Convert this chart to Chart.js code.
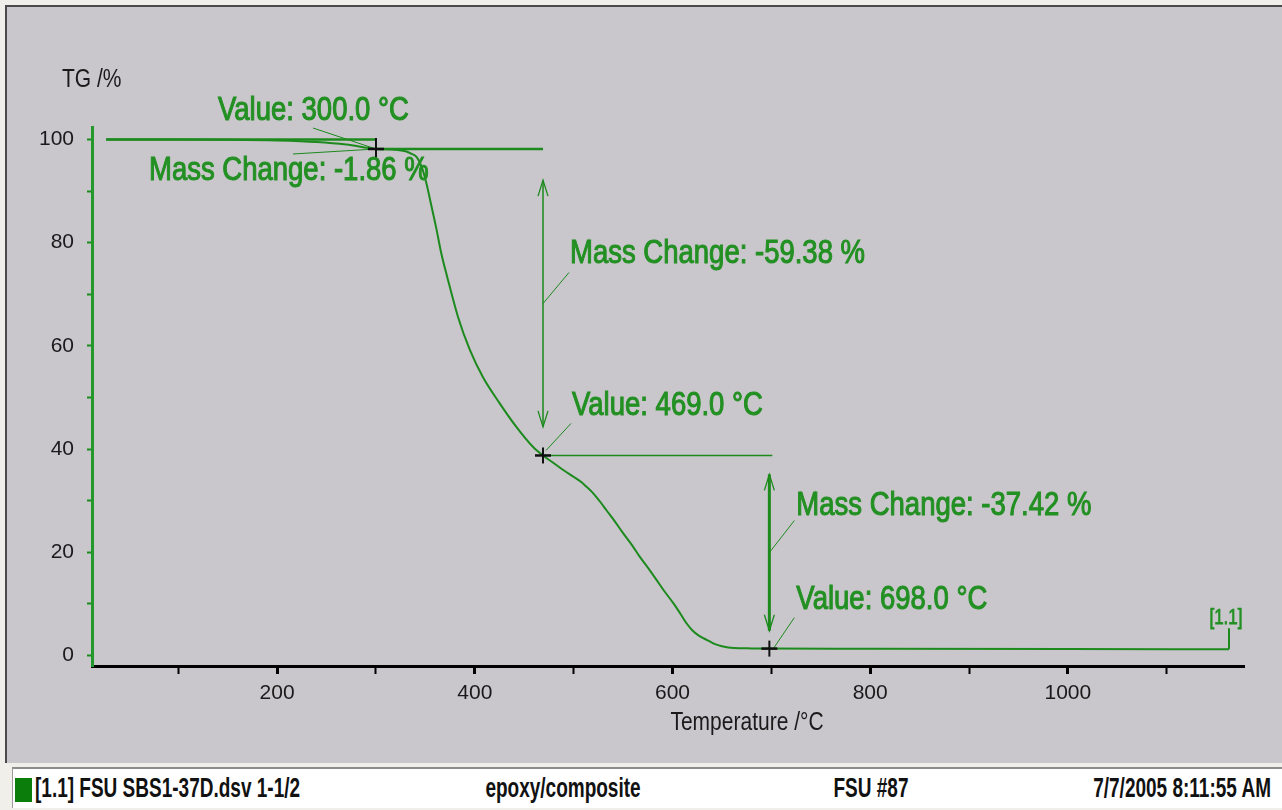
<!DOCTYPE html>
<html>
<head>
<meta charset="utf-8">
<script src="https://cdn.jsdelivr.net/npm/chart.js@4.4.1/dist/chart.umd.min.js"></script>
<style>
  html, body { margin:0; padding:0; width:1282px; height:810px; overflow:hidden; background:#f1efe9; font-family:'Liberation Sans', Arial, sans-serif; }
  #frame { position:absolute; left:5px; top:5px; width:1277px; height:758px; background:#c9c6cc; border-left:2px solid #4a4a4a; border-top:2px solid #4a4a4a; box-sizing:border-box; }
  #chart { position:absolute; left:7px; top:7px; }
  #status { position:absolute; left:12px; top:767px; width:1270px; height:41px; background:#ffffff; border-top:2px solid #8c8c8c; border-left:1px solid #9c9c9c; box-sizing:border-box; }
  #status .sq { position:absolute; left:2px; top:9px; width:17px; height:24px; background:#0b7d0b; }
  #status .t { position:absolute; top:9px; line-height:20px; font-size:19px; font-weight:bold; color:#111; white-space:nowrap; }
</style>
</head>
<body>
<div id="frame"></div>
<canvas id="chart" width="1275" height="756"></canvas>
<div id="status">
  <div class="sq"></div>
  <span class="t" style="left:22px; transform:scaleY(1.5); transform-origin:left center;">[1.1] FSU SBS1-37D.dsv 1-1/2</span>
  <span class="t" style="left:550px; transform:translateX(-50%) scaleY(1.5); transform-origin:center center;">epoxy/composite</span>
  <span class="t" style="left:858px; transform:translateX(-50%) scaleY(1.5); transform-origin:center center;">FSU #87</span>
  <span class="t" style="right:11px; transform:scaleY(1.5); transform-origin:right center;">7/7/2005 8:11:55 AM</span>
</div>
<script>
// ---------------- data ----------------
const temperatureC = [27,100,150,200,240,270,300,320,330,336,341,346,351,356,361,366,372,383,395,408,425,442,459,469,479,489.5,501,507,513,518,523,528,533,542,550,559,567,576,584,592,601,608,614,620,627,635,643,650,662,680,698,800,1000,1163];
const massPercent  = [100,100,99.95,99.8,99.5,99.0,98.14,98.0,97.7,97.2,96.6,94.8,91.5,87.2,82.8,78.0,73.4,65.6,59.2,54.0,48.9,44.3,40.4,38.76,37.4,35.94,34.5,33.7,32.7,31.8,30.7,29.5,28.2,25.9,23.7,21.4,19.1,16.8,14.6,12.4,10.1,8.1,6.3,4.9,3.8,3.0,2.2,1.8,1.45,1.38,1.34,1.3,1.25,1.22];

const eventTempC    = [300.0, 469.0, 698.0];
const eventMassPct  = [98.14, 38.76, 1.34];
const massChangePct = [-1.86, -59.38, -37.42];

const refLevelPct = [100, 98.14, 38.76];
const refFromC    = [27, 300, 469];
const refToC      = [300, 469, 701];

const arrowAtC       = [469, 698];
const arrowTopPct    = [92.1, 35.1];
const arrowBottomPct = [44.3, 4.8];

const xTickValues = [100,200,300,400,500,600,700,800,900,1000,1100];
const yTickValues = [0,10,20,30,40,50,60,70,80,90,100];
const xLabelStep = 200;
const yLabelStep = 20;

const xRange = [12.7, 1178.2];
const yRange = [-2.03, 102.4];

const curveLabel = '[1.1]';
const yAxisTitle = 'TG /%';
const xAxisTitle = 'Temperature /°C';

// ---------------- style ----------------
const GREEN = '#1c8a1c';
const TEXT_GREEN = '#229022';
const FONT = "'Liberation Sans', Arial, sans-serif";

function seg(ctx, x1, y1, x2, y2, w, col) {
  ctx.save(); ctx.strokeStyle = col; ctx.lineWidth = w; ctx.lineCap = 'butt';
  ctx.beginPath(); ctx.moveTo(x1, y1); ctx.lineTo(x2, y2); ctx.stroke(); ctx.restore();
}
function head(ctx, x, y, dir, w) { // dir=-1 points up, +1 points down
  ctx.save(); ctx.strokeStyle = GREEN; ctx.lineWidth = w;
  ctx.beginPath(); ctx.moveTo(x - 5, y - dir * 16); ctx.lineTo(x, y); ctx.lineTo(x + 5, y - dir * 16); ctx.stroke(); ctx.restore();
}
function txt(ctx, s, x, y, size, col, sy, align, boldStroke) {
  ctx.save(); ctx.font = 'normal ' + size + 'px ' + FONT; ctx.fillStyle = col; ctx.strokeStyle = col;
  ctx.textAlign = align || 'left'; ctx.textBaseline = 'alphabetic';
  ctx.translate(x, y); ctx.scale(1, sy); ctx.fillText(s, 0, 0);
  if (boldStroke) { ctx.lineWidth = boldStroke; ctx.strokeText(s, 0, 0); }
  ctx.restore();
}

const annotationPlugin = {
  id: 'tgaAnnotations',
  afterDatasetsDraw(chart) {
    const ctx = chart.ctx, xs = chart.scales.x, ys = chart.scales.y;
    const X = v => xs.getPixelForValue(v), Y = v => ys.getPixelForValue(v);

    // reference (step) lines
    const refW = [2.5, 2.5, 1.5];
    for (let i = 0; i < refLevelPct.length; i++) {
      seg(ctx, X(refFromC[i]), Y(refLevelPct[i]), X(refToC[i]), Y(refLevelPct[i]), refW[i], GREEN);
    }

    // double arrows
    const arrW = [1.5, 3];
    const mids = [];
    for (let i = 0; i < arrowAtC.length; i++) {
      const ax = X(arrowAtC[i]), t = Y(arrowTopPct[i]), b = Y(arrowBottomPct[i]);
      seg(ctx, ax, t, ax, b, arrW[i], GREEN);
      head(ctx, ax, t, -1, 1.3);
      head(ctx, ax, b, 1, 1.3);
      mids.push([ax, (t + b) / 2]);
    }

    // event points
    const pts = eventTempC.map((t, i) => [X(t), Y(eventMassPct[i])]);

    // leader lines (thin)
    const lw = 1;
    seg(ctx, pts[0][0], pts[0][1], pts[0][0] - 63, pts[0][1] - 21, lw, GREEN);
    seg(ctx, pts[0][0], pts[0][1], pts[0][0] - 83, pts[0][1] + 5, lw, GREEN);
    seg(ctx, mids[0][0], mids[0][1], mids[0][0] + 26, mids[0][1] - 31, lw, GREEN);
    seg(ctx, pts[1][0] + 3, pts[1][1] - 5, pts[1][0] + 28, pts[1][1] - 32, lw, GREEN);
    seg(ctx, mids[1][0], mids[1][1], mids[1][0] + 25, mids[1][1] - 32, lw, GREEN);
    seg(ctx, pts[2][0] + 4, pts[2][1], pts[2][0] + 25, pts[2][1] - 31, lw, GREEN);

    // curve end hook + label
    const ex = X(temperatureC[temperatureC.length - 1]), ey = Y(massPercent[massPercent.length - 1]);
    seg(ctx, ex, ey, ex, ey - 21, 2, GREEN);
    txt(ctx, curveLabel, ex - 3, ey - 25, 17, TEXT_GREEN, 1.25, 'center', 0.6);

    // crosses
    const half = [11, 8, 8];
    pts.forEach((p, i) => {
      seg(ctx, p[0] - 8, p[1], p[0] + 8, p[1], 2.5, '#101010');
      seg(ctx, p[0], p[1] - half[i], p[0], p[1] + half[i], 2, '#101010');
    });

    // annotation texts
    const fs = 27.5, sy = 1.18, bs = 0.9;
    const vLab = i => 'Value: ' + eventTempC[i].toFixed(1) + ' °C';
    const mLab = i => 'Mass Change: ' + massChangePct[i].toFixed(2) + ' %';
    txt(ctx, vLab(0), pts[0][0] - 158, pts[0][1] - 29, fs, TEXT_GREEN, sy, 'left', bs);
    txt(ctx, mLab(0), pts[0][0] - 227, pts[0][1] + 31, fs, TEXT_GREEN, sy, 'left', bs);
    txt(ctx, mLab(1), mids[0][0] + 27, mids[0][1] - 41, fs, TEXT_GREEN, sy, 'left', bs);
    txt(ctx, vLab(1), pts[1][0] + 29, pts[1][1] - 40, fs, TEXT_GREEN, sy, 'left', bs);
    txt(ctx, mLab(2), mids[1][0] + 27, mids[1][1] - 38, fs, TEXT_GREEN, sy, 'left', bs);
    txt(ctx, vLab(2), pts[2][0] + 27, pts[2][1] - 40, fs, TEXT_GREEN, sy, 'left', bs);

    // axis titles
    txt(ctx, yAxisTitle, 55, 80, 21, '#1a1a1a', 1.2);
    txt(ctx, xAxisTitle, 740, 723, 21, '#1a1a1a', 1.2, 'center');
  }
};

new Chart(document.getElementById('chart'), {
  type: 'line',
  data: {
    datasets: [{
      data: temperatureC.map((t, i) => ({ x: t, y: massPercent[i] })),
      borderColor: GREEN,
      borderWidth: 2,
      pointRadius: 0,
      cubicInterpolationMode: 'monotone',
      fill: false
    }]
  },
  options: {
    responsive: false,
    devicePixelRatio: 1,
    animation: false,
    layout: { padding: { left: 0, right: 38, top: 120, bottom: 0 } },
    plugins: { legend: { display: false }, tooltip: { enabled: false } },
    scales: {
      x: {
        type: 'linear',
        min: xRange[0], max: xRange[1],
        afterBuildTicks: s => { s.ticks = xTickValues.map(v => ({ value: v })); },
        afterFit: s => { s.height = 97; },
        ticks: {
          callback: v => (v % xLabelStep === 0 ? String(v) : ''),
          autoSkip: false, maxRotation: 0, minRotation: 0,
          padding: 7,
          color: '#1a1a1a',
          font: { family: FONT, size: 21 }
        },
        grid: {
          drawOnChartArea: false, drawTicks: true, tickLength: 8,
          tickColor: '#000',
          tickWidth: c => (c.tick && c.tick.value % xLabelStep === 0 ? 3 : 2)
        },
        border: { display: true, color: '#000', width: 3 }
      },
      y: {
        type: 'linear',
        min: yRange[0], max: yRange[1],
        afterBuildTicks: s => { s.ticks = yTickValues.map(v => ({ value: v })); },
        afterFit: s => { s.width = 85; },
        ticks: {
          callback: v => (v % yLabelStep === 0 ? String(v) : ''),
          autoSkip: false,
          padding: 13,
          color: '#1a1a1a',
          font: { family: FONT, size: 21 }
        },
        grid: {
          drawOnChartArea: false, drawTicks: true, tickLength: 5,
          tickColor: GREEN, tickWidth: 2
        },
        border: { display: true, color: '#22992a', width: 3 }
      }
    }
  },
  plugins: [annotationPlugin]
});
</script>
</body>
</html>
